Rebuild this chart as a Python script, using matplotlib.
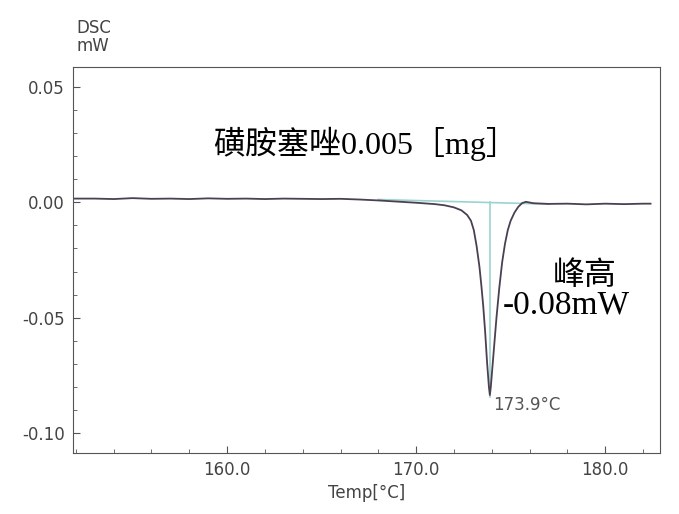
import matplotlib
matplotlib.use("Agg")
import matplotlib.pyplot as plt
from matplotlib.ticker import MultipleLocator, FormatStrFormatter

plt.rcParams['axes.unicode_minus'] = False

# DSC curve (temp in degC, heat flow in mW)
temp = [151.9, 153.0, 154.0, 155.0, 156.0, 157.0, 158.0, 159.0, 160.0, 161.0,
        162.0, 163.0, 164.0, 165.0, 166.0, 167.0, 168.0, 169.0, 170.0, 171.0,
        171.5, 172.0, 172.4, 172.7, 172.9, 173.05, 173.2, 173.35, 173.45, 173.55,
        173.65, 173.75, 173.85, 173.9, 173.95, 174.05, 174.15, 174.25, 174.4, 174.55,
        174.7, 174.85, 175.0, 175.2, 175.4, 175.6, 175.8, 176.2, 177.0, 178.0,
        179.0, 180.0, 181.0, 182.0, 182.4]
dsc = [0.0016, 0.0016, 0.0014, 0.0018, 0.0015, 0.0016, 0.0014, 0.0017, 0.0015, 0.0016,
       0.0014, 0.0016, 0.0015, 0.0014, 0.0015, 0.0012, 0.0008, 0.0003, -0.0002, -0.0008,
       -0.0013, -0.0022, -0.0035, -0.0055, -0.0080, -0.0120, -0.0190, -0.0280, -0.0360, -0.0450,
       -0.0560, -0.0690, -0.0800, -0.0835, -0.0800, -0.0700, -0.0600, -0.0500, -0.0370, -0.0260,
       -0.0180, -0.0120, -0.0080, -0.0045, -0.0020, -0.0004, 0.0002, -0.0004, -0.0007, -0.0006,
       -0.0009, -0.0006, -0.0008, -0.0006, -0.0006]

# integration baseline and peak marker
base_t = [168.0, 177.0]
base_v = [0.0012, -0.0008]
peak_t = 173.9
peak_v = -0.0845

fig = plt.figure(figsize=(6.79, 5.14), dpi=100)
ax = fig.add_axes([73 / 679, 1 - 453 / 514, 587 / 679, 386 / 514])

ax.plot(base_t, base_v, color='#9ad4cf', lw=1.2)
ax.plot([peak_t, peak_t], [0.0, peak_v], color='#9ad4cf', lw=1.2)
ax.plot(temp, dsc, color='#4b4052', lw=1.3)

ax.set_xlim(151.85, 182.9)
ax.set_ylim(-0.1086, 0.0586)
ax.xaxis.set_major_locator(MultipleLocator(10))
ax.xaxis.set_minor_locator(MultipleLocator(2))
ax.yaxis.set_major_locator(MultipleLocator(0.05))
ax.yaxis.set_minor_locator(MultipleLocator(0.01))
ax.xaxis.set_major_formatter(FormatStrFormatter('%.1f'))
ax.yaxis.set_major_formatter(FormatStrFormatter('%.2f'))
ax.tick_params(which='both', direction='in', colors='#555555', labelcolor='#444444', labelsize=12)
ax.tick_params(which='major', length=5)
ax.tick_params(which='minor', length=3)
ax.tick_params(axis='y', pad=6)
ax.tick_params(axis='x', pad=6)
for s in ax.spines.values():
    s.set_color('#555555')

ax.set_xlabel('Temp[°C]', fontsize=12, color='#444444', labelpad=3)
fig.text(76 / 679, 1 - 37 / 514, 'DSC\nmW', fontsize=12, color='#444444',
         ha='left', va='center', linespacing=0.95)

ax.text(peak_t + 0.15, peak_v + 0.0005, '173.9°C', fontsize=12, color='#555555',
        ha='left', va='top')

serif = ['Liberation Serif', 'Noto Sans CJK SC']
ax.text(167.3, 0.0255, '磺胺塞唑0.005［mg］', fontsize=23, family=serif,
        ha='center', va='center', color='black')
ax.text(178.9, -0.0318, '峰高', fontsize=23, family=serif, ha='center', va='center')
ax.text(177.95, -0.0448, '-0.08mW', fontsize=24, family=serif, ha='center', va='center')

fig.savefig('out.png', dpi=100)
